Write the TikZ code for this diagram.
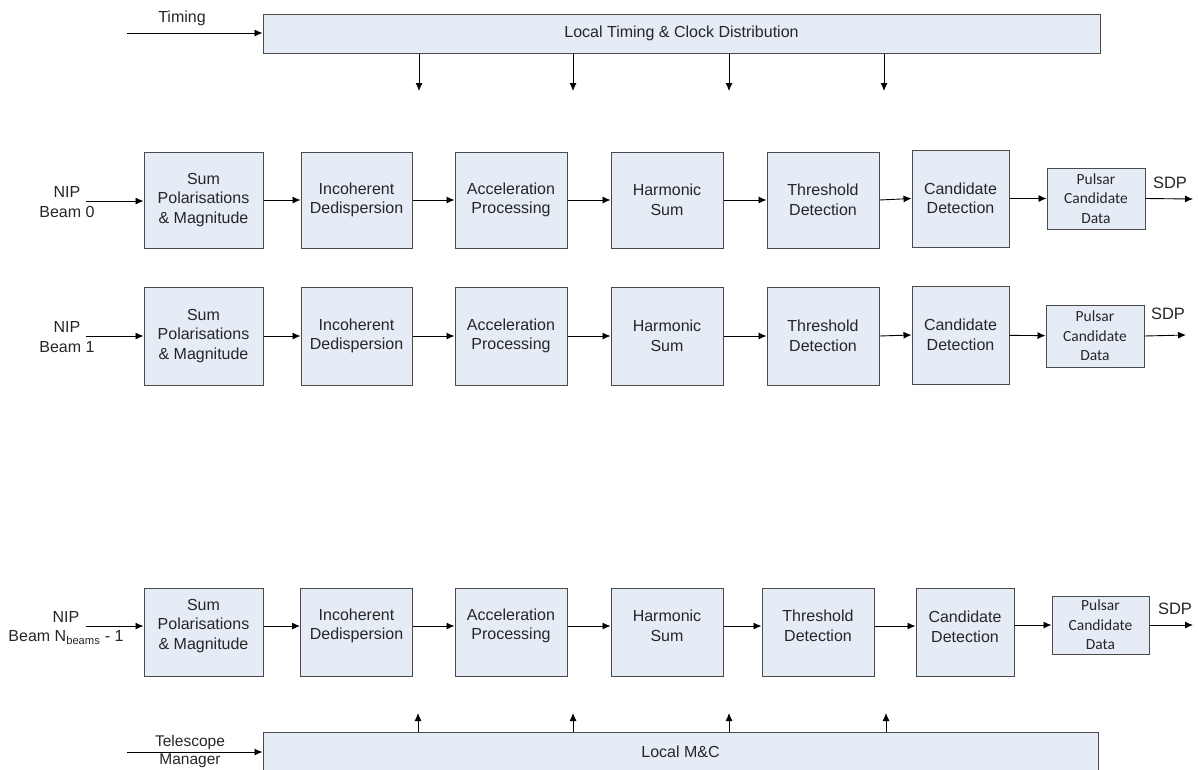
\documentclass[tikz,border=0pt]{standalone}
\usepackage{fontspec}
\setmainfont{Liberation Sans}
\newfontfamily\smallboxfont{Carlito}
\usetikzlibrary{arrows.meta}

\definecolor{boxfill}{HTML}{E5ECF6}
\definecolor{boxline}{HTML}{4A4A4A}
\definecolor{inkc}{HTML}{262626}

\tikzset{
  blk/.style={draw=boxline, fill=boxfill, line width=1pt, inner sep=0pt,
    align=center, text=inkc, font=\fontsize{16}{19.5}\selectfont},
  wide/.style={blk, minimum height=39pt},
  databox/.style={blk, font=\smallboxfont\fontsize{15.5}{19.5}\selectfont},
  lbl/.style={inner sep=0pt, align=center, text=inkc, font=\fontsize{16}{19.5}\selectfont},
  txt/.style={inner sep=0pt, align=center, text=inkc, font=\fontsize{16}{19.5}\selectfont},
  arr/.style={draw=black, line width=0.9pt, -{Latex[length=8pt,width=7pt]}}
}

\begin{document}
\begin{tikzpicture}[x=1pt, y=-1pt]
\useasboundingbox (0,0) rectangle (1198,769);
\clip (0,0) rectangle (1198,769);

% ---- timing distribution bar ----
\node[wide, minimum width=837pt] (clk) at (681.5,33.5) {Local Timing \& Clock Distribution};
\coordinate (tin) at (127,33);
\node[lbl] (timinglbl) at (182,18) {Timing};
\draw[arr] (tin) -- (tin -| clk.west);
\foreach \i/\x in {1/419, 2/573, 3/729, 4/884} {
  \coordinate (d\i) at (\x,91);
  \draw[arr] (d\i |- clk.south) -- (d\i);
}

% ---- beam 0 chain ----
\node[lbl] (nipa) at (67,202) {NIP\\Beam 0};
\coordinate (ina) at (86,201);
\node[blk, minimum width=119pt, minimum height=96pt] (a1) at (203.5,200) {Sum\\Polarisations\\\& Magnitude};
\node[blk, minimum width=111pt, minimum height=96pt] (a2) at (356.5,200) {Incoherent\\Dedispersion};
\node[blk, minimum width=112pt, minimum height=96pt] (a3) at (511,200) {Acceleration\\Processing};
\node[blk, minimum width=112pt, minimum height=96pt] (a4) at (667,200) {Harmonic\\Sum};
\node[blk, minimum width=112pt, minimum height=96pt] (a5) at (823,200) {Threshold\\Detection};
\node[blk, minimum width=97pt, minimum height=97pt] (a6) at (960.5,198.5) {Candidate\\Detection};
\node[databox, minimum width=98pt, minimum height=61pt] (ap) at (1096,198.5) {Pulsar\\Candidate\\Data};
\node[lbl, font=\fontsize{16.5}{19}\selectfont] (sdpa) at (1170,183) {SDP};
\coordinate (outa) at (1193,199);
\draw[arr] (ina) -- (ina -| a1.west);
\draw[arr] (a1) -- (a2);
\draw[arr] (a2) -- (a3);
\draw[arr] (a3) -- (a4);
\draw[arr] (a4) -- (a5);
\draw[arr] (a5.east) -- (a6.west);
\draw[arr] (a6) -- (ap);
\draw[arr] (ap.east) -- (outa);

% ---- beam 1 chain ----
\node[lbl] (nipb) at (67,337) {NIP\\Beam 1};
\coordinate (inb) at (86,336);
\node[blk, minimum width=119pt, minimum height=98pt] (b1) at (203.5,336) {Sum\\Polarisations\\\& Magnitude};
\node[blk, minimum width=111pt, minimum height=98pt] (b2) at (356.5,336) {Incoherent\\Dedispersion};
\node[blk, minimum width=112pt, minimum height=98pt] (b3) at (511,336) {Acceleration\\Processing};
\node[blk, minimum width=112pt, minimum height=98pt] (b4) at (667,336) {Harmonic\\Sum};
\node[blk, minimum width=112pt, minimum height=98pt] (b5) at (823,336) {Threshold\\Detection};
\node[blk, minimum width=97pt, minimum height=98pt] (b6) at (960.5,335) {Candidate\\Detection};
\node[databox, minimum width=98pt, minimum height=62pt] (bp) at (1095,336) {Pulsar\\Candidate\\Data};
\node[lbl, font=\fontsize{16.5}{19}\selectfont] (sdpb) at (1168,314) {SDP};
\coordinate (outb) at (1186,335);
\draw[arr] (inb) -- (inb -| b1.west);
\draw[arr] (b1) -- (b2);
\draw[arr] (b2) -- (b3);
\draw[arr] (b3) -- (b4);
\draw[arr] (b4) -- (b5);
\draw[arr] (b5.east) -- (b6.west);
\draw[arr] (b6) -- (bp);
\draw[arr] (bp.east) -- (outb);

% ---- last beam chain (text sits above box centre) ----
\node[lbl] (nipc) at (66,628) {NIP\\Beam N\textsubscript{beams} - 1};
\coordinate (inc) at (86,626);
\node[blk, minimum width=119pt, minimum height=88pt] (c1) at (203.5,632) {};
\node[blk, minimum width=112pt, minimum height=88pt] (c2) at (356.5,632) {};
\node[blk, minimum width=112pt, minimum height=88pt] (c3) at (511,632) {};
\node[blk, minimum width=112pt, minimum height=88pt] (c4) at (667,632) {};
\node[blk, minimum width=112pt, minimum height=88pt] (c5) at (818,632) {};
\node[blk, minimum width=98pt, minimum height=88pt] (c6) at (965,632) {};
\node[txt] (c1t) at ([yshift=6pt]c1.center) {Sum\\Polarisations\\\& Magnitude};
\node[txt] (c2t) at ([yshift=6pt]c2.center) {Incoherent\\Dedispersion};
\node[txt] (c3t) at ([yshift=6pt]c3.center) {Acceleration\\Processing};
\node[txt] (c4t) at ([yshift=6pt]c4.center) {Harmonic\\Sum};
\node[txt] (c5t) at ([yshift=6pt]c5.center) {Threshold\\Detection};
\node[txt] (c6t) at ([yshift=5pt]c6.center) {Candidate\\Detection};
\node[databox, minimum width=97pt, minimum height=58pt] (cp) at (1100.5,625) {Pulsar\\Candidate\\Data};
\node[lbl, font=\fontsize{16.5}{19}\selectfont] (sdpc) at (1175,609) {SDP};
\coordinate (outc) at (1193,625);
\draw[arr] (inc) -- (inc -| c1.west);
\draw[arr] ([yshift=6pt]c1.east) -- ([yshift=6pt]c2.west);
\draw[arr] ([yshift=6pt]c2.east) -- ([yshift=6pt]c3.west);
\draw[arr] ([yshift=6pt]c3.east) -- ([yshift=6pt]c4.west);
\draw[arr] ([yshift=6pt]c4.east) -- ([yshift=6pt]c5.west);
\draw[arr] ([yshift=6pt]c5.east) -- ([yshift=6pt]c6.west);
\draw[arr] ([yshift=7pt]c6.east) -- (cp.west);
\draw[arr] (cp.east) -- (outc);

% ---- monitoring & control bar ----
\node[wide, minimum width=835pt] (mc) at (680.5,751.5) {Local M\&C};
\coordinate (tmin) at (127,752);
\node[lbl, font=\fontsize{15.5}{18}\selectfont] (tmlbl) at (190,751) {Telescope\\Manager};
\draw[arr] (tmin) -- (tmin -| mc.west);
\foreach \i/\x in {1/418, 2/573, 3/729, 4/886} {
  \coordinate (u\i) at (\x,713);
  \draw[arr] (u\i |- mc.north) -- (u\i);
}
\end{tikzpicture}
\end{document}
